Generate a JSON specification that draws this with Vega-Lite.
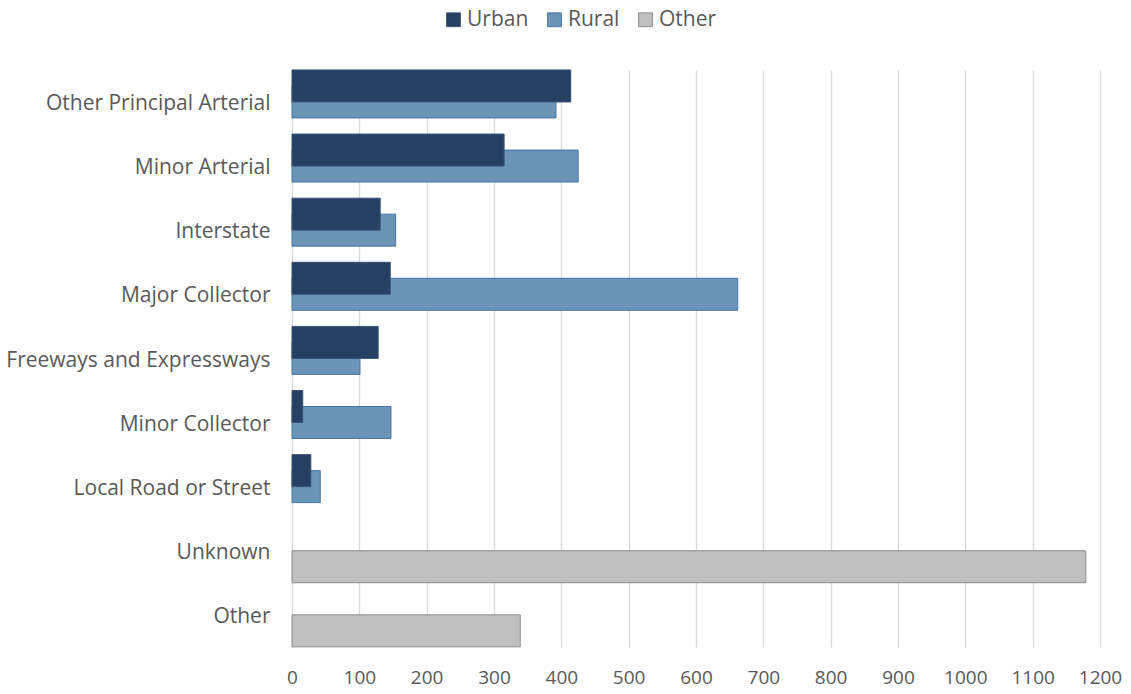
{
  "$schema": "https://vega.github.io/schema/vega-lite/v6.json",
  "autosize": "none",
  "width": 808,
  "height": 577,
  "padding": {"left": 292, "top": 70, "right": 31, "bottom": 47},
  "background": "white",
  "config": {"view": {"stroke": null}, "font": "Open Sans"},
  "data": {"values": [
    {"cat": "Other Principal Arterial", "series": "Rural", "value": 392},
    {"cat": "Minor Arterial", "series": "Rural", "value": 425},
    {"cat": "Interstate", "series": "Rural", "value": 154},
    {"cat": "Major Collector", "series": "Rural", "value": 662},
    {"cat": "Freeways and Expressways", "series": "Rural", "value": 101},
    {"cat": "Minor Collector", "series": "Rural", "value": 147},
    {"cat": "Local Road or Street", "series": "Rural", "value": 42},
    {"cat": "Other Principal Arterial", "series": "Urban", "value": 414},
    {"cat": "Minor Arterial", "series": "Urban", "value": 315},
    {"cat": "Interstate", "series": "Urban", "value": 131},
    {"cat": "Major Collector", "series": "Urban", "value": 146},
    {"cat": "Freeways and Expressways", "series": "Urban", "value": 128},
    {"cat": "Minor Collector", "series": "Urban", "value": 16},
    {"cat": "Local Road or Street", "series": "Urban", "value": 28},
    {"cat": "Unknown", "series": "Other", "value": 1179},
    {"cat": "Other", "series": "Other", "value": 339}
  ]},
  "mark": {"type": "bar", "height": {"band": 2}, "strokeWidth": 1},
  "encoding": {
    "y": {
      "field": "cat", "type": "nominal", "title": null,
      "sort": ["Other Principal Arterial", "Minor Arterial", "Interstate", "Major Collector", "Freeways and Expressways", "Minor Collector", "Local Road or Street", "Unknown", "Other"],
      "scale": {"paddingInner": 0, "paddingOuter": 0},
      "axis": {"domain": false, "ticks": false, "labelFontSize": 21, "labelColor": "#595959", "labelPadding": 22, "labelOffset": 2, "labelFont": "Open Sans", "labelLimit": 400}
    },
    "yOffset": {
      "field": "series", "type": "nominal",
      "scale": {"domain": ["Urban", "Rural", "Other"], "paddingInner": 0, "paddingOuter": 0.5, "range": [24, 88]}
    },
    "x": {
      "field": "value", "type": "quantitative", "stack": null, "title": null,
      "scale": {"domain": [0, 1200], "nice": false},
      "axis": {"values": [0,100,200,300,400,500,600,700,800,900,1000,1100,1200], "format": "d", "labelOverlap": false, "labelFlush": false, "domain": false, "ticks": false, "grid": true, "gridColor": "#d9d9d9", "gridWidth": 1.3, "labelFontSize": 19, "labelColor": "#595959", "labelPadding": 21, "labelFont": "Open Sans"}
    },
    "fill": {
      "field": "series", "type": "nominal",
      "scale": {"domain": ["Urban", "Rural", "Other"], "range": ["#254061", "#6b95b8", "#bfbfbf"]},
      "legend": {"orient": "none", "legendX": 151, "legendY": -61, "direction": "horizontal", "title": null, "symbolType": "square", "symbolSize": 190, "symbolStrokeWidth": 1, "labelFontSize": 21, "labelColor": "#595959", "labelFont": "Open Sans", "columnPadding": 15, "labelOffset": 3}
    },
    "stroke": {
      "field": "series", "type": "nominal",
      "scale": {"domain": ["Urban", "Rural", "Other"], "range": ["#3b5578", "#4a73a3", "#8c8c8c"]},
      "legend": null
    }
  }
}
